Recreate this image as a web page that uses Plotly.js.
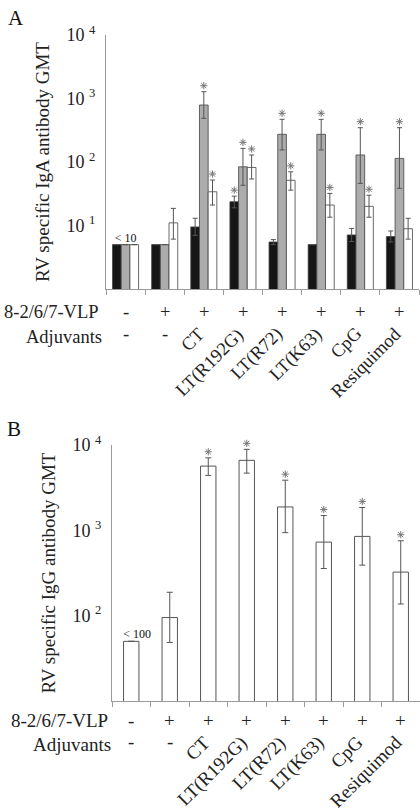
<!DOCTYPE html>
<html>
<head>
<meta charset="utf-8">
<script src="https://cdn.plot.ly/plotly-3.0.1.min.js"></script>
<style>html,body{margin:0;padding:0;background:#fff;}#chart{width:420px;height:812px;}</style>
</head>
<body>
<div id="chart"></div>
<script>
// ---------- data ----------
var vlp = ['-', '+', '+', '+', '+', '+', '+', '+'];
var adjuvants = ['-', '-', 'CT', 'LT(R192G)', 'LT(R72)', 'LT(K63)', 'CpG', 'Resiquimod'];

// Panel A: IgA GMT (three series)
var igaBlack      = [5, 5, 9.5, 23.7, 5.5, 5, 7.1, 6.7];
var igaBlackHigh  = [5, 5, 13, 29, 6.0, 5, 9, 8.2];
var igaBlackLow   = [5, 5, 7, 19, 5.0, 5, 5.6, 5.5];
var igaGray       = [5, 5, 790, 84, 273, 273, 129, 114];
var igaGrayHigh   = [5, 5, 1280, 164, 470, 470, 347, 347];
var igaGrayLow    = [5, 5, 488, 43, 155, 155, 46, 38.5];
var igaWhite      = [5, 11, 34, 82, 51.5, 21, 20, 8.9];
var igaWhiteHigh  = [5, 18.6, 52, 129, 70, 32, 30, 13];
var igaWhiteLow   = [5, 6.1, 21, 54, 36, 13.5, 13.5, 6.1];
var starsBlack    = [0, 0, 0, 1, 0, 0, 0, 0];
var starsGray     = [0, 0, 1, 1, 1, 1, 1, 1];
var starsWhite    = [0, 0, 1, 1, 1, 1, 1, 0];

// Panel B: IgG GMT
var igg      = [50, 95, 5660, 6610, 1880, 728, 849, 324];
var iggHigh  = [50, 188, 7080, 8900, 3870, 1490, 1850, 755];
var iggLow   = [50, 48.5, 4400, 4680, 940, 357, 391, 137];
var starsIgg = [0, 0, 1, 1, 1, 1, 1, 1];

var yTickValsA = [10, 100, 1000, 10000];
var yTickTextA = ['10 <sup>1</sup>', '10 <sup>2</sup>', '10 <sup>3</sup>', '10 <sup>4</sup>'];
var yTickValsB = [100, 1000, 10000];
var yTickTextB = ['10 <sup>2</sup>', '10 <sup>3</sup>', '10 <sup>4</sup>'];

// ---------- build ----------
var FONT = 'Liberation Serif, Times New Roman, serif';
var TXT = '#222';
var AXC = '#9a9a9a';
var ERRC = '#555';
var idx = vlp.map(function(_, i){ return i; });
var H = 812, W = 420;
function py(p){ return 1 - p / H; }
function px(p){ return p / W; }

// panel geometry (pixels)
var A = {top: 35, bottom: 289, left: 106, right: 419, decades: 4};
var B = {top: 445, bottom: 701, left: 112, right: 420, decades: 3};
var HEAD = 30; // extra head-room (px) for the star layer

function sub(a, b){ return a.map(function(v, i){ return Math.max(0, v - b[i]); }); }

var bwA = 0.222;
function barA(vals, hi, lo, color, off){
  return {
    type: 'bar', x: idx, y: vals, xaxis: 'x', yaxis: 'y',
    width: bwA, offset: off,
    marker: {color: color, line: {color: '#444', width: 0.8}},
    error_y: {type: 'data', symmetric: false, array: sub(hi, vals), arrayminus: sub(vals, lo),
              color: ERRC, thickness: 1, width: 2.5},
    hoverinfo: 'skip', showlegend: false
  };
}
// star markers a few pixels above the error-bar tops (on a same-scale layer with head-room)
function starTrace(stars, hi, dx, xa, ya, panel){
  var pxPerDecade = (panel.bottom - panel.top) / panel.decades;
  var lift = Math.pow(10, 6 / pxPerDecade);
  var xs = [], ys = [];
  stars.forEach(function(s, i){ if (s) { xs.push(i + dx); ys.push(hi[i] * lift); } });
  return {type: 'scatter', mode: 'markers', x: xs, y: ys,
          marker: {symbol: 'asterisk-open', size: 6, color: '#777', line: {color: '#777', width: 1}},
          xaxis: xa, yaxis: ya, hoverinfo: 'skip', showlegend: false};
}

var traces = [
  barA(igaBlack, igaBlackHigh, igaBlackLow, '#161616', -1.5 * bwA),
  barA(igaGray, igaGrayHigh, igaGrayLow, '#acacac', -0.5 * bwA),
  barA(igaWhite, igaWhiteHigh, igaWhiteLow, '#ffffff', 0.5 * bwA),
  {type: 'scatter', mode: 'text', x: [0], y: [igaWhite[0]], text: ['&lt; 10'], textposition: 'top center',
   textfont: {family: FONT, size: 12, color: '#111'}, xaxis: 'x', yaxis: 'y', hoverinfo: 'skip', showlegend: false},
  {type: 'bar', x: idx, y: igg, xaxis: 'x2', yaxis: 'y2', width: 0.4,
   marker: {color: '#ffffff', line: {color: '#555', width: 1}},
   error_y: {type: 'data', symmetric: false, array: sub(iggHigh, igg), arrayminus: sub(igg, iggLow),
             color: ERRC, thickness: 1, width: 3},
   hoverinfo: 'skip', showlegend: false},
  {type: 'scatter', mode: 'text', x: [0.15], y: [igg[0]], text: ['&lt; 100'], textposition: 'top center',
   textfont: {family: FONT, size: 12, color: '#111'}, xaxis: 'x2', yaxis: 'y2', hoverinfo: 'skip', showlegend: false},
  starTrace(starsBlack, igaBlackHigh, -bwA, 'x', 'y3', A),
  starTrace(starsGray, igaGrayHigh, 0, 'x', 'y3', A),
  starTrace(starsWhite, igaWhiteHigh, bwA, 'x', 'y3', A),
  starTrace(starsIgg, iggHigh, 0, 'x2', 'y4', B)
];

var boundaries = [];
for (var b = -0.5; b <= 7.5; b += 1) boundaries.push(b);

function xAxis(panel, anchor){
  return {domain: [px(panel.left), Math.min(1, px(panel.right))], anchor: anchor, range: [-0.5, 7.5],
          showline: true, linecolor: AXC, linewidth: 1,
          ticks: 'outside', ticklen: 5, tickcolor: AXC, tickvals: boundaries, showticklabels: false,
          showgrid: false, zeroline: false, fixedrange: true};
}
function yAxis(panel, anchor, tv, tt, title){
  return {domain: [py(panel.bottom), py(panel.top)], anchor: anchor, type: 'log', range: [4 - panel.decades, 4],
          showline: true, linecolor: AXC, linewidth: 1,
          ticks: '', ticklabelstandoff: 6, tickvals: tv, ticktext: tt, showgrid: false, zeroline: false,
          tickfont: {family: FONT, size: 18, color: TXT}, fixedrange: true,
          title: {text: title, font: {family: FONT, size: 19, color: TXT}, standoff: 11}};
}
function starAxis(panel, anchor){
  var pxPerDecade = (panel.bottom - panel.top) / panel.decades;
  return {domain: [py(panel.bottom), py(panel.top - HEAD)], anchor: anchor, type: 'log',
          range: [4 - panel.decades, 4 + HEAD / pxPerDecade], visible: false, fixedrange: true};
}

var ann = [];
function rows(yVlp, yAdj, yRot, fs, xr, labelRight){
  ann.push({xref: 'paper', yref: 'paper', x: px(labelRight), y: py(yVlp), xanchor: 'right', yanchor: 'middle',
            text: '8-2/6/7-VLP', showarrow: false, font: {family: FONT, size: fs, color: TXT}});
  ann.push({xref: 'paper', yref: 'paper', x: px(labelRight + 3), y: py(yAdj), xanchor: 'right', yanchor: 'middle',
            text: 'Adjuvants', showarrow: false, font: {family: FONT, size: fs, color: TXT}});
  vlp.forEach(function(s, i){
    ann.push({xref: xr, yref: 'paper', x: i, y: py(yVlp), xanchor: 'center', yanchor: 'middle',
              text: s, showarrow: false, font: {family: FONT, size: fs, color: TXT}});
  });
  adjuvants.forEach(function(s, i){
    if (s === '-') {
      ann.push({xref: xr, yref: 'paper', x: i, y: py(yAdj - 3), xanchor: 'center', yanchor: 'middle',
                text: s, showarrow: false, font: {family: FONT, size: fs, color: TXT}});
    } else {
      ann.push({xref: xr, yref: 'paper', x: i, y: py(yRot), xanchor: 'right', yanchor: 'top', xshift: 8,
                text: s, textangle: -45, showarrow: false, font: {family: FONT, size: fs, color: TXT}});
    }
  });
}
rows(312, 337, 321, 18.5, 'x', 101);
rows(720, 744, 729, 19, 'x2', 110);

ann.push({xref: 'paper', yref: 'paper', x: px(6), y: py(4), xanchor: 'left', yanchor: 'top', text: 'A',
          showarrow: false, font: {family: FONT, size: 21, color: '#111'}});
ann.push({xref: 'paper', yref: 'paper', x: px(5), y: py(415), xanchor: 'left', yanchor: 'top', text: 'B',
          showarrow: false, font: {family: FONT, size: 21, color: '#111'}});

var layout = {
  width: W, height: H, margin: {l: 0, r: 0, t: 0, b: 0},
  paper_bgcolor: '#fff', plot_bgcolor: 'rgba(0,0,0,0)',
  barmode: 'overlay', showlegend: false,
  font: {family: FONT, color: TXT},
  xaxis: xAxis(A, 'y'),
  yaxis: yAxis(A, 'x', yTickValsA, yTickTextA, 'RV specific IgA antibody GMT'),
  xaxis2: xAxis(B, 'y2'),
  yaxis2: yAxis(B, 'x2', yTickValsB, yTickTextB, 'RV specific IgG antibody GMT'),
  yaxis3: starAxis(A, 'x'),
  yaxis4: starAxis(B, 'x2'),
  annotations: ann
};

Plotly.newPlot('chart', traces, layout, {staticPlot: true, displayModeBar: false});
</script>
</body>
</html>
